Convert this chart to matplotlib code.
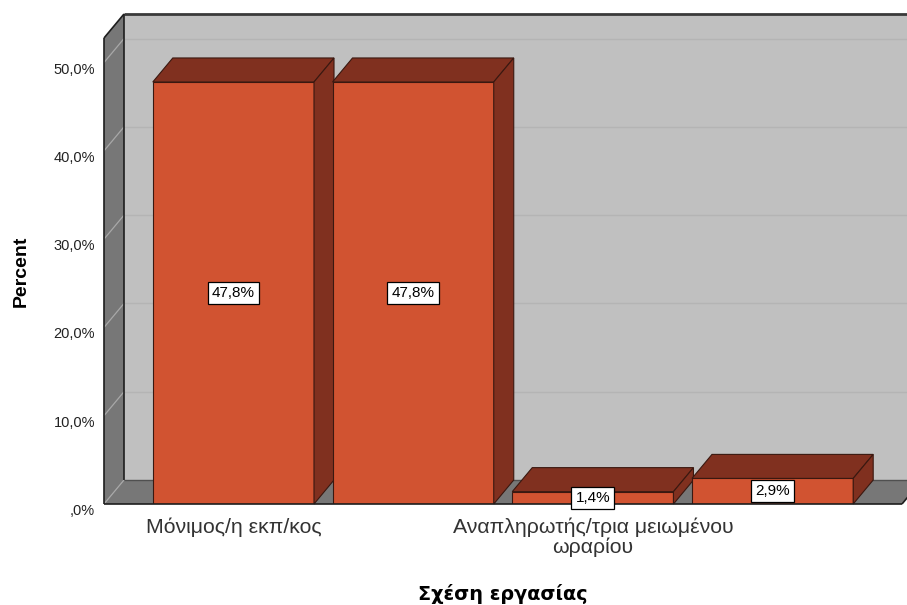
import matplotlib
matplotlib.use("Agg")
import matplotlib.pyplot as plt
from matplotlib.patches import Polygon, Rectangle
from matplotlib.transforms import ScaledTranslation

# Data
categories = ["Μόνιμος/η εκπ/κος", "", "Αναπληρωτής/τρια μειωμένου\nωραρίου", ""]
percent = [47.8, 47.8, 1.4, 2.9]
value_labels = ["47,8%", "47,8%", "1,4%", "2,9%"]
y_ticks = [0, 10, 20, 30, 40, 50]
y_tick_labels = [",0%", "10,0%", "20,0%", "30,0%", "40,0%", "50,0%"]

# Colours
BAR_FRONT = "#D15331"
BAR_DARK = "#80301F"
BAR_EDGE = "#3A1810"
WALL_DARK = "#777777"
WALL_BACK = "#C0C0C0"
GRID_BACK = "#B4B4B4"
GRID_WALL = "#A8A8A8"
EDGE = "#1E1E1E"

W, H, DPI = 907, 605, 100
fig = plt.figure(figsize=(W / DPI, H / DPI), dpi=DPI)
fig.patch.set_facecolor("white")

# Front plane of the 3D box, in pixels from the top-left corner
left, right, bottom, top = 104, 902, 504, 38
ax = fig.add_axes([left / W, 1 - bottom / H, (right - left) / W, (bottom - top) / H])
ax.patch.set_visible(False)
for s in ax.spines.values():
    s.set_visible(False)

xmin, xmax = -0.72, 3.72
ymax = 52.78
ax.set_xlim(xmin, xmax)
ax.set_ylim(0, ymax)

# Depth of the 3D effect converted to data units
DX_PX, DY_PX = 20, 24
dx = DX_PX * (xmax - xmin) / (right - left)
dy = DY_PX * ymax / (bottom - top)

def poly(pts, fc, z, ec="none", lw=0.0):
    p = Polygon(pts, closed=True, facecolor=fc, edgecolor=ec, linewidth=lw,
                zorder=z, clip_on=False, joinstyle="miter")
    ax.add_patch(p)

def line(xs, ys, color, lw, z):
    ax.plot(xs, ys, color=color, linewidth=lw, zorder=z, clip_on=False,
            solid_capstyle="butt")

# Back wall, left wall and floor
poly([(xmin + dx, dy), (xmax + dx, dy), (xmax + dx, ymax + dy), (xmin + dx, ymax + dy)],
     WALL_BACK, 1)
poly([(xmin, 0), (xmin + dx, dy), (xmin + dx, ymax + dy), (xmin, ymax)], WALL_DARK, 1)
poly([(xmin, 0), (xmax, 0), (xmax + dx, dy), (xmin + dx, dy)], WALL_DARK, 1)

# Gridlines on the back wall and their continuation on the side wall
for v in y_ticks:
    if v > 0:
        line([xmin + dx, xmax + dx], [v + dy, v + dy], GRID_BACK, 1.0, 2)
    line([xmin, xmin + dx], [v, v + dy], GRID_WALL, 0.9, 2)

# Box edges
line([xmin + dx, xmax + dx], [ymax + dy, ymax + dy], "#3A3A3A", 2.0, 3)
line([xmin, xmin + dx], [ymax, ymax + dy], EDGE, 1.2, 3)
line([xmin, xmin], [0, ymax], EDGE, 1.2, 3)
line([xmin + dx, xmin + dx], [dy, ymax + dy], EDGE, 1.2, 3)
line([xmin + dx, xmax + dx], [dy, dy], "#505050", 1.0, 3)
line([xmax, xmax + dx], [0, dy], EDGE, 1.2, 3)

# Bars (front, top and right side), drawn left to right
bar_w = 161 / 179.5
for i, v in enumerate(percent):
    x0, x1 = i - bar_w / 2, i + bar_w / 2
    z = 10 + i * 3
    ax.add_patch(Rectangle((x0, 0), bar_w, v, facecolor=BAR_FRONT, edgecolor=BAR_EDGE,
                           linewidth=0.8, zorder=z, joinstyle="miter"))
    poly([(x0, v), (x1, v), (x1 + dx, v + dy), (x0 + dx, v + dy)], BAR_DARK, z + 1,
         ec=BAR_EDGE, lw=0.8)
    poly([(x1, 0), (x1 + dx, dy), (x1 + dx, v + dy), (x1, v)], BAR_DARK, z + 1,
         ec=BAR_EDGE, lw=0.8)

# Floor front edge on top of the bar bases
line([xmin, xmax], [0, 0], EDGE, 1.2, 30)

# Value labels
for i, (v, lab) in enumerate(zip(percent, value_labels)):
    ax.text(i, v / 2, lab, ha="center", va="center", fontsize=11,
            family="Liberation Sans", color="black", zorder=40,
            bbox=dict(boxstyle="square,pad=0.28", facecolor="white",
                      edgecolor="black", linewidth=0.9))

# Axes ticks
ax.set_yticks(y_ticks)
ax.set_yticklabels(y_tick_labels, fontsize=10.5, family="Liberation Sans", color="#222222")
ax.tick_params(axis="y", length=0, pad=6.5)
shift = ScaledTranslation(0, -4 / 72, fig.dpi_scale_trans)
for lab in ax.get_yticklabels():
    lab.set_transform(lab.get_transform() + shift)

ax.set_xticks(range(len(categories)))
ax.set_xticklabels(categories, fontsize=15.3, family="Liberation Sans", color="#333333",
                   linespacing=1.08)
ax.tick_params(axis="x", length=0, pad=9.5)

ax.set_ylabel("Percent", fontsize=14, fontweight="bold", family="Liberation Sans",
              va="center")
ax.yaxis.set_label_coords((21.5 - left) / (right - left), 0.5)
ax.set_xlabel("Σχέση εργασίας", fontsize=13.9, fontweight="bold", family="DejaVu Sans",
              va="center")
ax.xaxis.set_label_coords(0.5, (bottom - 594) / (bottom - top))

fig.savefig("out.png", dpi=DPI)
